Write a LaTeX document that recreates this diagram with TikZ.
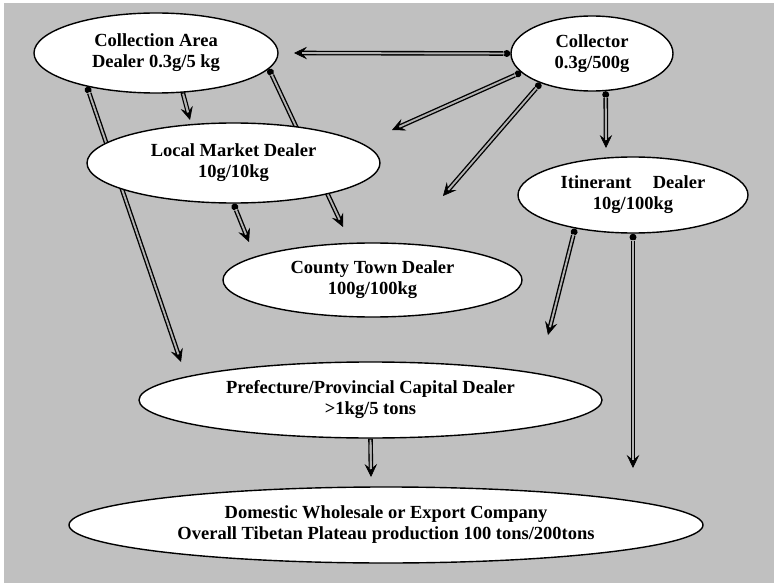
\documentclass[tikz,border=0pt]{standalone}
\usepackage{fontspec}
\setmainfont{Liberation Serif}
\usetikzlibrary{arrows.meta, shapes.geometric}
\definecolor{panel}{RGB}{192,192,192}
\pgfdeclarelayer{back}
\pgfdeclarelayer{links}
\pgfsetlayers{back,links,main}

\begin{document}
\begin{tikzpicture}[x=1pt, y=-1pt,
  dealer/.style={ellipse, draw, line width=1.4pt, fill=white, inner sep=0pt,
    align=center, font=\fontsize{18.5}{21}\selectfont\bfseries},
  flow/.style={line width=4.6pt,
    {Circle[length=7pt, width=7pt, line width=0pt]}-{Stealth[length=13pt, width=12.5pt, inset=5pt, line width=0.6pt]},
    postaction={draw=gray!60, line width=1.9pt, arrows=-, shorten >=8pt, shorten <=6pt}},
  flowplain/.style={flow, -{Stealth[length=13pt, width=12.5pt, inset=5pt, line width=0.6pt]},
    postaction={draw=gray!60, line width=1.9pt, arrows=-, shorten >=8pt, shorten <=1pt}}]
  \useasboundingbox (0,0) rectangle (774,583);
  \begin{pgfonlayer}{back}
    \fill[white] (0,0) rectangle (774,583);
    \fill[panel] (4,3) rectangle (774,583);
  \end{pgfonlayer}

  % dealers
  \node[dealer, minimum width=244pt, minimum height=80pt] (ca) at (156,53) {Collection Area\\Dealer 0.3g/5 kg};
  \node[dealer, minimum width=162pt, minimum height=75pt] (col) at (592,53.5) {Collector\\0.3g/500g};
  \node[dealer, minimum width=293pt, minimum height=80pt] (lm) at (233.5,163) {Local Market Dealer\\10g/10kg};
  \node[dealer, minimum width=230pt, minimum height=76pt] (it) at (633,195) {Itinerant\hspace{0.9em} Dealer\\10g/100kg};
  \node[dealer, minimum width=299pt, minimum height=74pt] (ct) at (372.5,280) {County Town Dealer\\100g/100kg};
  \node[dealer, minimum width=463pt, minimum height=76pt] (pr) at (370.5,400) {Prefecture/Provincial Capital Dealer\\>1kg/5 tons};
  \node[dealer, minimum width=634pt, minimum height=76pt] (dm) at (386,525) {Domestic Wholesale or Export Company\\Overall Tibetan Plateau production 100 tons/200tons};

  % free arrow ends
  \coordinate (toCa) at (294,53);
  \coordinate (toLmA) at (392,130);
  \coordinate (toCt) at (443,196);
  \coordinate (toIt) at (606,148);
  \coordinate (toPrA) at (181,362);
  \coordinate (toCtA) at (343,227);
  \coordinate (toLm) at (190,120);
  \coordinate (toCtB) at (249,242);
  \coordinate (toPrB) at (548,335);
  \coordinate (toDmA) at (633,468);
  \coordinate (toDm) at (371,477);

  \begin{pgfonlayer}{links}
    \draw[flow] (col.west) -- (toCa);
    \draw[flow] (col.195) -- (toLmA);
    \draw[flow] (col.210) -- (toCt);
    \draw[flow] (col.-70) -- (toIt);
    \draw[flow] (ca.206) -- (toPrA);
    \draw[flow] (ca.-8) -- (toCtA);
    \draw[flowplain] (ca.-56) -- (toLm);
    \draw[flow] (lm.south) -- (toCtB);
    \draw[flow] (it.210) -- (toPrB);
    \draw[flow] (it.south) -- (toDmA);
    \draw[flowplain] (pr.south) -- (toDm);
  \end{pgfonlayer}
\end{tikzpicture}
\end{document}
